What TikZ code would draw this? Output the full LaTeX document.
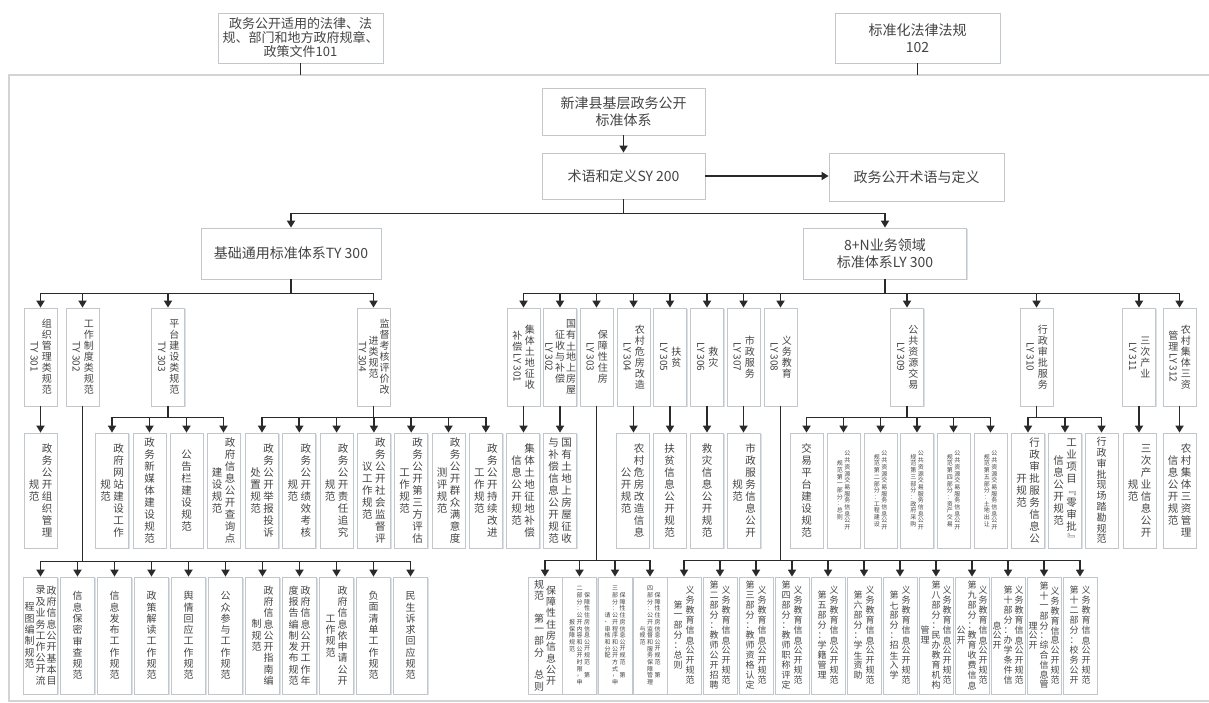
\documentclass[tikz,border=0pt]{standalone}
\usepackage{fontspec}
\usepackage{graphicx}
\setmainfont{Noto Sans CJK SC}
\usetikzlibrary{arrows.meta,shadows}
\definecolor{tx}{HTML}{444444}
\definecolor{ln}{HTML}{2A2A2A}
\definecolor{bd}{HTML}{C2C7CE}
\definecolor{shd}{HTML}{DCE1E8}
\definecolor{framec}{HTML}{D4D4D4}
% vertical text machinery
\newdimen\vch \newdimen\vcw \newbox\vcbox
\def\vcEndMark{\vcEnd}
\def\vcA#1{\def\vcTmp{#1}\ifx\vcTmp\vcEndMark\else\vcCell{#1}\expandafter\vcA\fi}
\def\vcCell#1{\setbox\vcbox\hbox{#1}\ifdim\dimexpr\ht\vcbox+\dp\vcbox\relax>\vch\kern1.5pt\hbox to\vcw{\hss\box\vcbox\hss}\kern1.5pt\else\vbox to\vch{\vss\hbox to\vcw{\hss\box\vcbox\hss}\vss}\fi}
\newcommand\VC[1]{$\vcenter{\offinterlineskip\vcA#1\vcEnd}$}
\newcommand\VO[1]{\VC{#1}}
\newcommand\VT[2]{\VC{#2}\VC{#1}}
\newcommand\VTT[3]{\VC{#3}\VC{#2}\VC{#1}}
\newcommand\LL[1]{\rotatebox{-90}{#1}}
\newcommand\vsz[3]{\fontsize{#1}{#1}\selectfont\vch=#2pt\vcw=#3pt}
\newcommand\busto[3]{\foreach \cc in {#3}{\draw[arr] (#1.south) -- ++(0,#2) -| (\cc.north);}}
\begin{document}
\begin{tikzpicture}[x=1pt,y=-1pt,
  box/.style={draw=bd, fill=white, text=tx, line width=0.8pt, inner sep=0pt,
    drop shadow={shadow xshift=1.3pt,shadow yshift=-1.3pt,fill=shd,opacity=1}},
  hb/.style={box, align=center, font=\fontsize{14}{17}\selectfont},
  v3/.style={box, minimum width=33pt, minimum height=98pt, font=\vsz{10}{11}{12.5}},
  v4/.style={box, minimum width=33pt, minimum height=115pt, font=\vsz{10.5}{12}{13}},
  v5/.style={box, minimum width=34pt, minimum height=117pt, font=\vsz{10}{11.3}{12}},
  vs/.style={font=\vsz{6}{6.7}{7.5}},
  vn/.style={font=\vsz{9}{10}{12}},
  conn/.style={draw=ln, line width=1.7pt},
  arr/.style={conn, -{Triangle[width=8pt,length=7pt]}}]
\useasboundingbox (0,0) rectangle (1209,703);
% frame
\draw[framec, line width=2pt] (1215,701) -- (9,701) -- (9,75) -- (1215,75);
\coordinate (fa) at (300.5,75);
\coordinate (fb) at (917.5,75);
% top level
\node[hb, minimum width=165pt, minimum height=50pt, font=\fontsize{13}{14}\selectfont] (law) at (300.5,38) {政务公开适用的法律、法\\规、部门和地方政府规章、\\政策文件101};
\node[hb, minimum width=165pt, minimum height=50pt] (std) at (917.5,38) {标准化法律法规\\102};
\draw[conn] (law.south) -- (fa);
\draw[conn] (std.south) -- (fb);
\node[hb, minimum width=163pt, minimum height=47pt] (root) at (623.5,111.5) {新津县基层政务公开\\标准体系};
\node[hb, minimum width=163pt, minimum height=46pt] (sy) at (623.5,176) {术语和定义SY 200};
\node[hb, minimum width=175pt, minimum height=48pt] (def) at (916.5,177) {政务公开术语与定义};
\node[hb, minimum width=180pt, minimum height=51pt] (ty) at (291,253.5) {基础通用标准体系TY 300};
\node[hb, minimum width=163pt, minimum height=51pt] (ly) at (885,253.5) {8+N业务领域\\标准体系LY 300};
\draw[arr] (root.south) -- (sy.north);
\draw[arr] (sy.east) -- (sy.east -| def.west);
\busto{sy}{14}{ty,ly}
% level 3 left
\node[v3] (t301) at (40.5,357) {\VT{组织管理类规范}{{\LL{TY 301}}}};
\node[v3] (t302) at (82.5,357) {\VT{工作制度类规范}{{\LL{TY 302}}}};
\node[v3] (t303) at (168,357) {\VT{平台建设类规范}{{\LL{TY 303}}}};
\node[v3, font=\vsz{10}{11}{11}] (t304) at (373.5,357) {\VTT{监督考核评价改}{进类规范}{{\LL{TY 304}}}};
\busto{ty}{14}{t301,t302,t303,t304}
% level 3 right
\node[v3] (l301) at (523.5,357) {\VT{集体土地征收}{补偿{\LL{LY 301}}}};
\node[v3, font=\vsz{10}{11}{11}] (l302) at (560,357) {\VTT{国有土地上房屋}{征收与补偿}{{\LL{LY 302}}}};
\node[v3] (l303) at (596.5,357) {\VT{保障性住房}{{\LL{LY 303}}}};
\node[v3] (l304) at (633.5,357) {\VT{农村危房改造}{{\LL{LY 304}}}};
\node[v3] (l305) at (670,357) {\VT{扶贫}{{\LL{LY 305}}}};
\node[v3] (l306) at (707,357) {\VT{救灾}{{\LL{LY 306}}}};
\node[v3] (l307) at (743.5,357) {\VT{市政服务}{{\LL{LY 307}}}};
\node[v3] (l308) at (780.5,357) {\VT{义务教育}{{\LL{LY 308}}}};
\node[v3] (l309) at (907,357) {\VT{公共资源交易}{{\LL{LY 309}}}};
\node[v3] (l310) at (1036.5,357) {\VT{行政审批服务}{{\LL{LY 310}}}};
\node[v3] (l311) at (1139,357) {\VT{三次产业}{{\LL{LY 311}}}};
\node[v3] (l312) at (1179.5,357) {\VT{农村集体三资}{管理{\LL{LY 312}}}};
\busto{ly}{14}{l301,l302,l303,l304,l305,l306,l307,l308,l309,l310,l311,l312}
% level 4 left
\node[v4] (a1) at (40.5,490.5) {\VT{政务公开组织管理}{规范}};
\node[v4] (b1) at (112,490.5) {\VT{政府网站建设工作}{规范}};
\node[v4] (b2) at (149.5,490.5) {\VO{政务新媒体建设规范}};
\node[v4] (b3) at (186.5,490.5) {\VO{公告栏建设规范}};
\node[v4] (b4) at (223.5,490.5) {\VT{政府信息公开查询点}{建设规范}};
\node[v4] (c1) at (262,490.5) {\VT{政务公开举报投诉}{处置规范}};
\node[v4] (c2) at (299.3,490.5) {\VT{政务公开绩效考核}{规范}};
\node[v4] (c3) at (336.6,490.5) {\VT{政务公开责任追究}{规范}};
\node[v4] (c4) at (373.9,490.5) {\VT{政务公开社会监督评}{议工作规范}};
\node[v4] (c5) at (411.2,490.5) {\VT{政务公开第三方评估}{工作规范}};
\node[v4] (c6) at (448.5,490.5) {\VT{政务公开群众满意度}{测评规范}};
\node[v4] (c7) at (485.8,490.5) {\VT{政务公开持续改进}{工作规范}};
\draw[arr] (t301.south) -- (t301.south |- a1.north);
\busto{t303}{11}{b1,b2,b3,b4}
\busto{t304}{11}{c1,c2,c3,c4,c5,c6,c7}
% level 4 right
\node[v4] (d1) at (523,490.5) {\VT{集体土地征地补偿}{信息公开规范}};
\node[v4] (d2) at (560,490.5) {\VT{国有土地上房屋征收}{与补偿信息公开规范}};
\node[v4] (d4) at (632.5,490.5) {\VT{农村危房改造信息}{公开规范}};
\node[v4] (d5) at (669.5,490.5) {\VO{扶贫信息公开规范}};
\node[v4] (d6) at (707,490.5) {\VO{救灾信息公开规范}};
\node[v4] (d7) at (744,490.5) {\VT{市政服务信息公开}{规范}};
\foreach \p/\c in {l301/d1,l302/d2,l304/d4,l305/d5,l306/d6,l307/d7}{\draw[arr] (\p.south) -- (\p.south |- \c.north);}
\node[v4] (e1) at (806.5,490.5) {\VO{交易平台建设规范}};
\node[v4, vs] (e2) at (843.5,490.5) {\VT{公共资源交易服务信息公开}{规范第一部分：总则}};
\node[v4, vs] (e3) at (880.5,490.5) {\VT{公共资源交易服务信息公开}{规范第二部分：工程建设}};
\node[v4, vs] (e4) at (917,490.5) {\VT{公共资源交易服务信息公开}{规范第三部分：政府采购}};
\node[v4, vs] (e5) at (953.5,490.5) {\VT{公共资源交易服务信息公开}{规范第四部分：资产交易}};
\node[v4, vs] (e6) at (990.5,490.5) {\VT{公共资源交易服务信息公开}{规范第五部分：土地出让}};
\busto{l309}{11}{e1,e2,e3,e4,e5,e6}
\node[v4] (f1) at (1028,490.5) {\VT{行政审批服务信息公}{开规范}};
\node[v4] (f2) at (1065,490.5) {\VT{工业项目{\LL{『}}零审批{\LL{』}}}{信息公开规范}};
\node[v4, font=\vsz{10}{10.8}{13}] (f3) at (1101.5,490.5) {\VO{行政审批现场踏勘规范}};
\busto{l310}{11}{f1,f2,f3}
\node[v4] (g1) at (1139.5,490.5) {\VT{三次产业信息公开}{规范}};
\node[v4] (h1) at (1179.5,490.5) {\VT{农村集体三资管理}{信息公开规范}};
\draw[arr] (l311.south) -- (l311.south |- g1.north);
\draw[arr] (l312.south) -- (l312.south |- h1.north);
% level 5 left
\node[v5, font=\vsz{10}{11.3}{11}] (k1) at (40.5,635.5) {\VTT{政府信息公开基本目}{录及业务工作公开流}{程图编制规范}};
\node[v5] (k2) at (77.5,635.5) {\VO{信息保密审查规范}};
\node[v5] (k3) at (114.5,635.5) {\VO{信息发布工作规范}};
\node[v5] (k4) at (151.5,635.5) {\VO{政策解读工作规范}};
\node[v5] (k5) at (188.5,635.5) {\VO{舆情回应工作规范}};
\node[v5] (k6) at (225.5,635.5) {\VO{公众参与工作规范}};
\node[v5] (k7) at (262.5,635.5) {\VT{政府信息公开指南编}{制规范}};
\node[v5] (k8) at (299.5,635.5) {\VT{政府信息公开工作年}{度报告编制发布规范}};
\node[v5] (k9) at (336.5,635.5) {\VT{政府信息依申请公开}{工作规范}};
\node[v5] (k10) at (373.5,635.5) {\VO{负面清单工作规范}};
\node[v5] (k11) at (410.5,635.5) {\VO{民生诉求回应规范}};
\busto{t302}{155}{k1,k2,k3,k4,k5,k6,k7,k8,k9,k10,k11}
% level 5 right: LY 303
\node[v5] (m1) at (545,635.5) {\VT{保障性住房信息公开}{规范~第一部分~总则}};
\node[v5, vs] (m2) at (579.5,635.5) {\VTT{保障性住房信息公开规范~第}{二部分：公开内容和公开时限，申}{报保障规范}};
\node[v5, vs] (m3) at (615,635.5) {\VTT{保障性住房信息公开规范~第}{三部分：公开程序和公开方式，申}{请、审核和分配}};
\node[v5, vs] (m4) at (650,635.5) {\VTT{保障性住房信息公开规范~第}{四部分：公开监督和服务保障管理}{与规范}};
\busto{l303}{154}{m1,m2,m3,m4}
% level 5 right: LY 308
\node[v5, vn] (n1) at (684,635.5) {\VT{义务教育信息公开规范}{第一部分：总则}};
\node[v5, vn] (n2) at (720,635.5) {\VT{义务教育信息公开规范}{第二部分：教师公开招聘}};
\node[v5, vn] (n3) at (756,635.5) {\VT{义务教育信息公开规范}{第三部分：教师资格认定}};
\node[v5, vn] (n4) at (792,635.5) {\VT{义务教育信息公开规范}{第四部分：教师职称评定}};
\node[v5, vn] (n5) at (828,635.5) {\VT{义务教育信息公开规范}{第五部分：学籍管理}};
\node[v5, vn] (n6) at (864,635.5) {\VT{义务教育信息公开规范}{第六部分：学生资助}};
\node[v5, vn] (n7) at (900,635.5) {\VT{义务教育信息公开规范}{第七部分：招生入学}};
\node[v5, vn, font=\vsz{9}{10}{11}] (n8) at (936,635.5) {\VTT{义务教育信息公开规范}{第八部分：民办教育机构}{管理}};
\node[v5, vn, font=\vsz{9}{10}{11}] (n9) at (972,635.5) {\VTT{义务教育信息公开规范}{第九部分：教育收费信息}{公开}};
\node[v5, vn, font=\vsz{9}{10}{11}] (n10) at (1008,635.5) {\VTT{义务教育信息公开规范}{第十部分：办学条件信}{息公开}};
\node[v5, vn, font=\vsz{9}{9.8}{11}] (n11) at (1044,635.5) {\VTT{义务教育信息公开规范}{第十一部分：综合信息管}{理公开}};
\node[v5, vn] (n12) at (1080,635.5) {\VT{义务教育信息公开规范}{第十二部分：校务公开}};
\busto{l308}{154}{n1,n2,n3,n4,n5,n6,n7,n8,n9,n10,n11,n12}
\end{tikzpicture}
\end{document}
